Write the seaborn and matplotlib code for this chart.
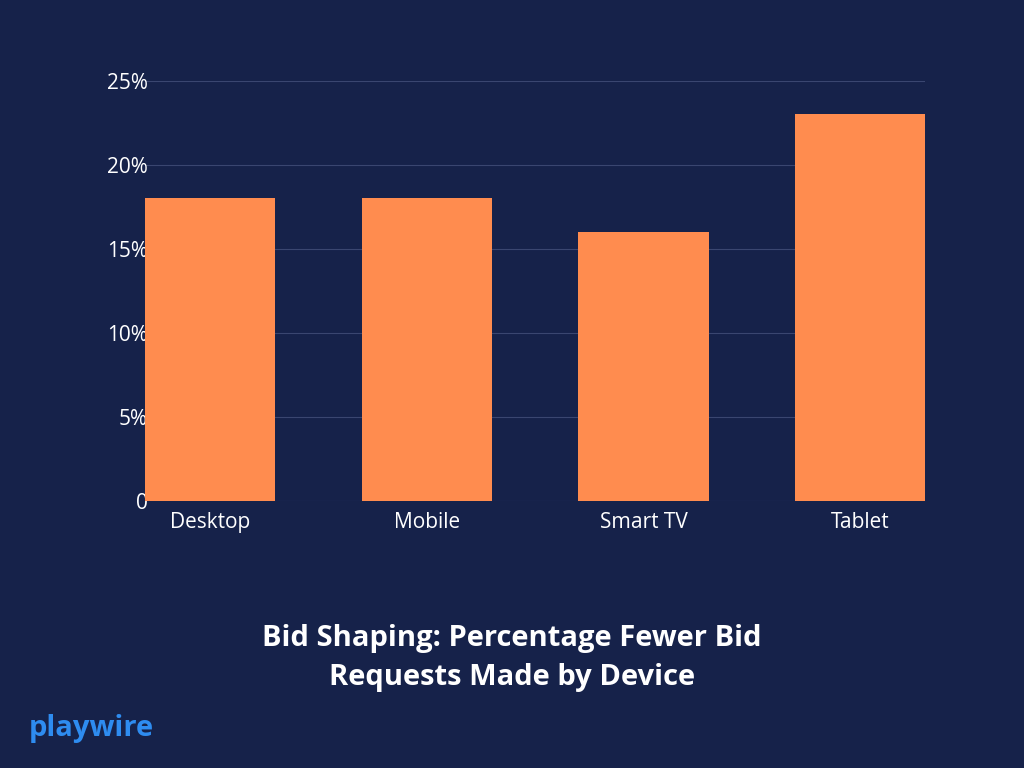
import matplotlib
matplotlib.use("Agg")
import matplotlib.pyplot as plt
import seaborn as sns
import pandas as pd

devices = ["Desktop", "Mobile", "Smart TV", "Tablet"]
fewer_pct = [18, 18, 16, 23]
ytick_vals = [0, 5, 10, 15, 20, 25]
ytick_labels = ["0", "5%", "10%", "15%", "20%", "25%"]

bg = "#16224a"
df = pd.DataFrame({"device": devices, "pct": fewer_pct})

fig = plt.figure(figsize=(10.24, 7.68), dpi=100, facecolor=bg)
ax = fig.add_axes([0.1416, 0.3477, 0.762, 0.547])
ax.set_facecolor(bg)
ax.patch.set_alpha(0)

sns.barplot(data=df, x="device", y="pct", color="#ff8c4f", saturation=1,
            width=0.6, ax=ax, zorder=3)

ax.set_xlim(-0.3, 3.3)
ax.set_ylim(0, 25)
ax.set_yticks(ytick_vals)
ax.set_yticklabels(ytick_labels)
ax.yaxis.grid(True, color="#3a4670", linewidth=0.8, zorder=0)
ax.set_axisbelow(True)
for s in ax.spines.values():
    s.set_visible(False)
ax.tick_params(axis="both", length=0, colors="white", labelsize=15)
ax.tick_params(axis="y", pad=-2)
ax.tick_params(axis="x", pad=8)
for lab in ax.get_yticklabels() + ax.get_xticklabels():
    lab.set_fontfamily("Open Sans")
ax.set_xlabel("")
ax.set_ylabel("")

fig.text(0.5, 0.143, "Bid Shaping: Percentage Fewer Bid\nRequests Made by Device",
         ha="center", va="center", color="white", fontsize=21, fontweight="bold",
         linespacing=1.45, family="Open Sans")
fig.text(0.028, 0.052, "playwire", color="#2e8cf0", fontsize=21, fontweight="bold",
         family="Open Sans", va="center")

fig.savefig("out.png", dpi=100, facecolor=bg)
